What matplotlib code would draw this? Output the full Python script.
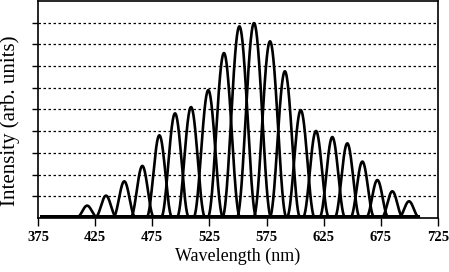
import matplotlib
matplotlib.use("Agg")
import matplotlib.pyplot as plt
import numpy as np

# peak centres (nm), heights (arb. units) and half base widths (nm)
centres = [418, 434.5, 450.5, 466.3, 481.2, 494.9, 508.9, 524, 537.7, 551.2,
           564, 578, 591, 604.9, 618.2, 632.5, 645.6, 658.8, 671.9, 685, 699.6]
heights = [0.52, 0.98, 1.64, 2.35, 3.76, 4.77, 5.06, 5.84, 7.55, 8.78,
           8.93, 8.09, 6.71, 4.92, 3.96, 3.68, 3.39, 2.55, 1.70, 1.18, 0.72]
halfbase = [8.5, 9, 9.5, 10, 11, 12, 12.2, 12.8, 14, 14.8,
            14.9, 14.3, 13.2, 12, 11.2, 11, 10.8, 10.2, 9.5, 9, 8.5]
baseline = 0.05
xticks = [375, 425, 475, 525, 575, 625, 675, 725]

plt.rcParams['font.family'] = ['Liberation Serif', 'DejaVu Serif']

fig = plt.figure(figsize=(4.49, 2.72), dpi=100)
ax = fig.add_axes([0.0846, 0.1985, 0.891, 0.798])

wl = np.linspace(378, 708, 1500)
for c, h, w in zip(centres, heights, halfbase):
    d = np.clip(np.abs(wl - c) / w, 0, 1)
    spec = baseline + h * np.cos(0.5 * np.pi * d) ** 2
    ax.plot(wl, spec, color='black', linewidth=1.9)

ax.set_xlim(375, 725)
ax.set_ylim(0, 10)
ax.set_xticks(xticks)
ax.set_xticklabels([str(t) for t in xticks], fontsize=10.5, fontweight='bold')
ax.set_yticks(np.arange(1, 10))
ax.set_yticklabels([])
ax.yaxis.grid(True, linestyle=(0, (2, 2)), color='black', linewidth=0.9)
ax.tick_params(axis='x', direction='out', length=6, width=1, pad=3)
ax.tick_params(axis='y', direction='out', length=4, width=1)
for s in ax.spines.values():
    s.set_linewidth(1.2)

ax.set_xlabel('Wavelength (nm)', fontsize=13, labelpad=3)
ax.set_ylabel('Intensity (arb. units)', fontsize=15)
ax.yaxis.set_label_coords(-0.045, 0.45)

fig.savefig('out.png', dpi=100)
